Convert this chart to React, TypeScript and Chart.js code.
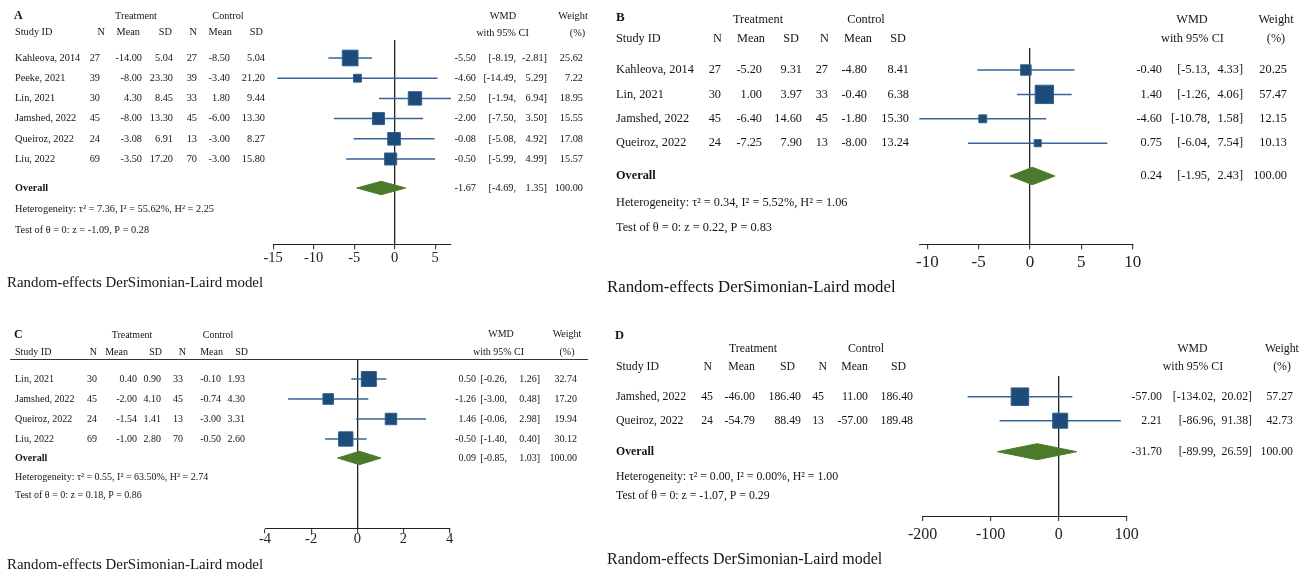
import React, { useEffect, useRef } from 'react';
import { Chart, registerables } from 'chart.js';

Chart.register(...registerables);

const FONT = '"Liberation Serif", "Times New Roman", serif';

// ---------------- Panel A ----------------
const A_STUDIES = ['Kahleova, 2014', 'Peeke, 2021', 'Lin, 2021', 'Jamshed, 2022', 'Queiroz, 2022', 'Liu, 2022'];
const A_T_N = [27, 39, 30, 45, 24, 69];
const A_T_MEAN = [-14.0, -8.0, 4.3, -8.0, -3.08, -3.5];
const A_T_SD = [5.04, 23.3, 8.45, 13.3, 6.91, 17.2];
const A_C_N = [27, 39, 33, 45, 13, 70];
const A_C_MEAN = [-8.5, -3.4, 1.8, -6.0, -3.0, -3.0];
const A_C_SD = [5.04, 21.2, 9.44, 13.3, 8.27, 15.8];
const A_WMD = [-5.5, -4.6, 2.5, -2.0, -0.08, -0.5];
const A_LO = [-8.19, -14.49, -1.94, -7.5, -5.08, -5.99];
const A_HI = [-2.81, 5.29, 6.94, 3.5, 4.92, 4.99];
const A_WEIGHT = [25.62, 7.22, 18.95, 15.55, 17.08, 15.57];
const A_OVERALL = [-1.67, -4.69, 1.35, 100.0];
const A_TICKS = [-15, -10, -5, 0, 5];
const A_HET = 'Heterogeneity: τ² = 7.36, I² = 55.62%, H² = 2.25';
const A_TEST = 'Test of θ = 0: z = -1.09, P = 0.28';

// ---------------- Panel B ----------------
const B_STUDIES = ['Kahleova, 2014', 'Lin, 2021', 'Jamshed, 2022', 'Queiroz, 2022'];
const B_T_N = [27, 30, 45, 24];
const B_T_MEAN = [-5.2, 1.0, -6.4, -7.25];
const B_T_SD = [9.31, 3.97, 14.6, 7.9];
const B_C_N = [27, 33, 45, 13];
const B_C_MEAN = [-4.8, -0.4, -1.8, -8.0];
const B_C_SD = [8.41, 6.38, 15.3, 13.24];
const B_WMD = [-0.4, 1.4, -4.6, 0.75];
const B_LO = [-5.13, -1.26, -10.78, -6.04];
const B_HI = [4.33, 4.06, 1.58, 7.54];
const B_WEIGHT = [20.25, 57.47, 12.15, 10.13];
const B_OVERALL = [0.24, -1.95, 2.43, 100.0];
const B_TICKS = [-10, -5, 0, 5, 10];
const B_HET = 'Heterogeneity: τ² = 0.34, I² = 5.52%, H² = 1.06';
const B_TEST = 'Test of θ = 0: z = 0.22, P = 0.83';

// ---------------- Panel C ----------------
const C_STUDIES = ['Lin, 2021', 'Jamshed, 2022', 'Queiroz, 2022', 'Liu, 2022'];
const C_T_N = [30, 45, 24, 69];
const C_T_MEAN = [0.4, -2.0, -1.54, -1.0];
const C_T_SD = [0.9, 4.1, 1.41, 2.8];
const C_C_N = [33, 45, 13, 70];
const C_C_MEAN = [-0.1, -0.74, -3.0, -0.5];
const C_C_SD = [1.93, 4.3, 3.31, 2.6];
const C_WMD = [0.5, -1.26, 1.46, -0.5];
const C_LO = [-0.26, -3.0, -0.06, -1.4];
const C_HI = [1.26, 0.48, 2.98, 0.4];
const C_WEIGHT = [32.74, 17.2, 19.94, 30.12];
const C_OVERALL = [0.09, -0.85, 1.03, 100.0];
const C_TICKS = [-4, -2, 0, 2, 4];
const C_HET = 'Heterogeneity: τ² = 0.55, I² = 63.50%, H² = 2.74';
const C_TEST = 'Test of θ = 0: z = 0.18, P = 0.86';

// ---------------- Panel D ----------------
const D_STUDIES = ['Jamshed, 2022', 'Queiroz, 2022'];
const D_T_N = [45, 24];
const D_T_MEAN = [-46.0, -54.79];
const D_T_SD = [186.4, 88.49];
const D_C_N = [45, 13];
const D_C_MEAN = [11.0, -57.0];
const D_C_SD = [186.4, 189.48];
const D_WMD = [-57.0, 2.21];
const D_LO = [-134.02, -86.96];
const D_HI = [20.02, 91.38];
const D_WEIGHT = [57.27, 42.73];
const D_OVERALL = [-31.7, -89.99, 26.59, 100.0];
const D_TICKS = [-200, -100, 0, 100];
const D_HET = 'Heterogeneity: τ² = 0.00, I² = 0.00%, H² = 1.00';
const D_TEST = 'Test of θ = 0: z = -1.07, P = 0.29';

const MODEL_TEXT = 'Random-effects DerSimonian-Laird model';

// ---------------- Layout / style ----------------
const COL_SQ = '#1d4b7a';
const COL_SQ_EDGE = '#30608f';
const COL_CI = '#35659a';
const COL_DIA = '#4b7a2b';
const COL_ZERO = '#222222';
const COL_AXIS = '#222222';
const COL_TEXT = '#141414';

const LAYOUT_A = {
  box: { x: 0, y: 0, w: 600, h: 300 },
  font: 10.3, letterFont: 12, modelFont: 14.9, tickFont: 14.5, tickPad: 0,
  letter: [14, 16], groupY: 16, treatX: 136, ctrlX: 228,
  headY: 32, studyX: 15,
  hdrRight: [105, 140, 172, 197, 232, 263],
  colRight: [100, 142, 173, 197, 230, 265],
  row0: 58, rowGap: 20.2, overallY: 188, hetY: 209, testY: 230,
  plotTop: 40, axisY: 244.3, zeroX: 394.7, ppu: 8.1,
  wmdX: 503, cix: 502.5, weightX: 573, pctX: 577.5, hdr1Y: 16, hdr2Y: 33,
  esRight: 476, loRight: 516, hiRight: 547, wRight: 583,
  modelX: 7, modelY: 283, sq: 3.3, dh: 6.7, rule: null as null | number[],
};

const LAYOUT_B = {
  box: { x: 600, y: 0, w: 709, h: 300 },
  font: 12.3, letterFont: 13, modelFont: 16.8, tickFont: 17, tickPad: 3,
  letter: [616, 18], groupY: 20, treatX: 758, ctrlX: 866,
  headY: 39, studyX: 616,
  hdrRight: [722, 765, 799, 829, 872, 906],
  colRight: [721, 762, 802, 828, 867, 909],
  row0: 70, rowGap: 24.4, overallY: 176, hetY: 203, testY: 228,
  plotTop: 48, axisY: 244.3, zeroX: 1030, ppu: 10.27,
  wmdX: 1192, cix: 1192.5, weightX: 1276, pctX: 1276, hdr1Y: 20, hdr2Y: 39,
  esRight: 1162, loRight: 1210, hiRight: 1243, wRight: 1287,
  modelX: 607, modelY: 288, sq: 2.55, dh: 8.7, rule: null as null | number[],
};

const LAYOUT_C = {
  box: { x: 0, y: 300, w: 600, h: 277 },
  font: 10.0, letterFont: 12, modelFont: 14.9, tickFont: 14.5, tickPad: -3,
  letter: [14, 335], groupY: 335, treatX: 132, ctrlX: 218,
  headY: 352, studyX: 15,
  hdrRight: [97, 128, 162, 186, 223, 248],
  colRight: [97, 137, 161, 183, 221, 245],
  row0: 379, rowGap: 20, overallY: 458, hetY: 477, testY: 495,
  plotTop: 359.5, axisY: 528.3, zeroX: 357.3, ppu: 23.07,
  wmdX: 501, cix: 498.5, weightX: 567, pctX: 567, hdr1Y: 334, hdr2Y: 352,
  esRight: 476, loRight: 507, hiRight: 540, wRight: 577,
  modelX: 7, modelY: 565, sq: 2.8, dh: 6.7, rule: [10, 588, 359.5] as null | number[],
};

const LAYOUT_D = {
  box: { x: 600, y: 300, w: 709, h: 277 },
  font: 11.8, letterFont: 12.5, modelFont: 16, tickFont: 16, tickPad: 4,
  letter: [615, 336], groupY: 349, treatX: 753, ctrlX: 866,
  headY: 367, studyX: 616,
  hdrRight: [712, 755, 795, 827, 868, 906],
  colRight: [713, 755, 801, 824, 868, 913],
  row0: 396.7, rowGap: 24, overallY: 451.7, hetY: 477, testY: 496,
  plotTop: 376, axisY: 516, zeroX: 1058.7, ppu: 0.68,
  wmdX: 1192.5, cix: 1193, weightX: 1282, pctX: 1282, hdr1Y: 349, hdr2Y: 367,
  esRight: 1162, loRight: 1216, hiRight: 1252, wRight: 1293,
  modelX: 607, modelY: 560, sq: 2.45, dh: 8, rule: null as null | number[],
};

type Layout = typeof LAYOUT_A;

interface PanelDef {
  letter: string;
  studies: string[];
  tN: number[]; tMean: number[]; tSD: number[];
  cN: number[]; cMean: number[]; cSD: number[];
  wmd: number[]; lo: number[]; hi: number[]; weight: number[];
  overall: number[]; ticks: number[]; het: string; test: string;
  L: Layout;
}

const PANELS: PanelDef[] = [
  { letter: 'A', studies: A_STUDIES, tN: A_T_N, tMean: A_T_MEAN, tSD: A_T_SD, cN: A_C_N, cMean: A_C_MEAN, cSD: A_C_SD,
    wmd: A_WMD, lo: A_LO, hi: A_HI, weight: A_WEIGHT, overall: A_OVERALL, ticks: A_TICKS, het: A_HET, test: A_TEST, L: LAYOUT_A },
  { letter: 'B', studies: B_STUDIES, tN: B_T_N, tMean: B_T_MEAN, tSD: B_T_SD, cN: B_C_N, cMean: B_C_MEAN, cSD: B_C_SD,
    wmd: B_WMD, lo: B_LO, hi: B_HI, weight: B_WEIGHT, overall: B_OVERALL, ticks: B_TICKS, het: B_HET, test: B_TEST, L: LAYOUT_B },
  { letter: 'C', studies: C_STUDIES, tN: C_T_N, tMean: C_T_MEAN, tSD: C_T_SD, cN: C_C_N, cMean: C_C_MEAN, cSD: C_C_SD,
    wmd: C_WMD, lo: C_LO, hi: C_HI, weight: C_WEIGHT, overall: C_OVERALL, ticks: C_TICKS, het: C_HET, test: C_TEST, L: LAYOUT_C },
  { letter: 'D', studies: D_STUDIES, tN: D_T_N, tMean: D_T_MEAN, tSD: D_T_SD, cN: D_C_N, cMean: D_C_MEAN, cSD: D_C_SD,
    wmd: D_WMD, lo: D_LO, hi: D_HI, weight: D_WEIGHT, overall: D_OVERALL, ticks: D_TICKS, het: D_HET, test: D_TEST, L: LAYOUT_D },
];

const XH = 40;

function ForestPanel({ p }: { p: PanelDef }) {
  const ref = useRef<HTMLCanvasElement>(null);

  useEffect(() => {
    const L = p.L;
    const canvas = ref.current;
    if (!canvas) return;
    const axisMin = Math.min(p.ticks[0], ...p.lo);
    const axisMax = Math.max(p.ticks[p.ticks.length - 1], ...p.hi);
    const yOf = (px: number) => (px - L.row0) / L.rowGap;
    const yMin = yOf(L.plotTop);
    const yMax = yOf(L.axisY);
    const yOv = yOf(L.overallY);
    const dhU = L.dh / L.rowGap;

    const ciData: { x: number; y: number }[] = [];
    p.wmd.forEach((_, i) => {
      ciData.push({ x: p.lo[i], y: i }, { x: p.hi[i], y: i }, { x: NaN, y: NaN });
    });
    const sqData = p.wmd.map((v, i) => ({ x: v, y: i }));
    const [oEs, oLo, oHi] = p.overall;
    const diaData = [
      { x: oLo, y: yOv }, { x: oEs, y: yOv - dhU }, { x: oHi, y: yOv }, { x: oEs, y: yOv + dhU }, { x: oLo, y: yOv },
    ];

    const leftPx = L.zeroX + axisMin * L.ppu - L.box.x;
    const rightPx = L.zeroX + axisMax * L.ppu - L.box.x;

    const textPlugin = {
      id: 'forestText' + p.letter,
      afterDraw(chart: any) {
        const ctx: CanvasRenderingContext2D = chart.ctx;
        const ys = chart.scales.y;
        const rowY = (i: number) => ys.getPixelForValue(i) + L.box.y;
        ctx.save();
        ctx.translate(-L.box.x, -L.box.y);
        ctx.fillStyle = COL_TEXT;
        ctx.textBaseline = 'middle';
        const fnt = (size: number, bold = false) => `${bold ? 'bold ' : ''}${size}px ${FONT}`;
        const t = (s: string, x: number, y: number, align: CanvasTextAlign = 'left', font = fnt(L.font)) => {
          ctx.font = font;
          ctx.textAlign = align;
          ctx.fillText(s, x, y);
        };
        // panel letter
        t(p.letter, L.letter[0], L.letter[1], 'left', fnt(L.letterFont, true));
        // group headers
        t('Treatment', L.treatX, L.groupY, 'center');
        t('Control', L.ctrlX, L.groupY, 'center');
        // column headers
        t('Study ID', L.studyX, L.headY);
        const hdrs = ['N', 'Mean', 'SD', 'N', 'Mean', 'SD'];
        hdrs.forEach((h, k) => t(h, L.hdrRight[k], L.headY, 'right'));
        t('WMD', L.wmdX, L.hdr1Y, 'center');
        t('with 95% CI', L.cix, L.hdr2Y, 'center');
        t('Weight', L.weightX, L.hdr1Y, 'center');
        t('(%)', L.pctX, L.hdr2Y, 'center');
        if (L.rule) {
          ctx.strokeStyle = '#333';
          ctx.lineWidth = 1;
          ctx.beginPath();
          ctx.moveTo(L.rule[0], L.rule[2]);
          ctx.lineTo(L.rule[1], L.rule[2]);
          ctx.stroke();
        }
        // study rows
        p.studies.forEach((s, i) => {
          const y = rowY(i);
          t(s, L.studyX, y);
          const vals = [
            String(p.tN[i]), p.tMean[i].toFixed(2), p.tSD[i].toFixed(2),
            String(p.cN[i]), p.cMean[i].toFixed(2), p.cSD[i].toFixed(2),
          ];
          vals.forEach((v, k) => t(v, L.colRight[k], y, 'right'));
          t(p.wmd[i].toFixed(2), L.esRight, y, 'right');
          t('[' + p.lo[i].toFixed(2) + ',', L.loRight, y, 'right');
          t(p.hi[i].toFixed(2) + ']', L.hiRight, y, 'right');
          t(p.weight[i].toFixed(2), L.wRight, y, 'right');
        });
        // overall row
        const oy = rowY(yOv);
        t('Overall', L.studyX, oy, 'left', fnt(L.font, true));
        t(p.overall[0].toFixed(2), L.esRight, oy, 'right');
        t('[' + p.overall[1].toFixed(2) + ',', L.loRight, oy, 'right');
        t(p.overall[2].toFixed(2) + ']', L.hiRight, oy, 'right');
        t(p.overall[3].toFixed(2), L.wRight, oy, 'right');
        // heterogeneity and test
        t(p.het, L.studyX, L.hetY);
        t(p.test, L.studyX, L.testY);
        // model footnote
        t(MODEL_TEXT, L.modelX, L.modelY, 'left', fnt(L.modelFont));
        ctx.restore();
      },
    };

    const chart = new Chart(canvas, {
      type: 'scatter',
      data: {
        datasets: [
          {
            label: 'Studies',
            data: sqData,
            pointStyle: 'rect',
            pointRadius: (c: any) => (L.sq * Math.sqrt(p.weight[c.dataIndex]) - 1) / Math.SQRT2,
            backgroundColor: COL_SQ,
            borderColor: COL_SQ_EDGE,
            borderWidth: 1,
            showLine: false,
            clip: false,
            order: 0,
          } as any,
          {
            label: 'Overall',
            data: diaData,
            showLine: true,
            fill: 'shape',
            backgroundColor: COL_DIA,
            borderColor: COL_DIA,
            borderWidth: 1,
            pointRadius: 0,
            tension: 0,
            clip: false,
            order: 1,
          } as any,
          {
            label: '95% CI',
            data: ciData,
            showLine: true,
            spanGaps: false,
            borderColor: COL_CI,
            borderWidth: 1.5,
            pointRadius: 0,
            tension: 0,
            clip: false,
            order: 2,
          } as any,
        ],
      },
      options: {
        responsive: false,
        animation: false,
        events: [],
        layout: {
          padding: {
            left: leftPx,
            right: L.box.w - rightPx,
            top: L.plotTop - L.box.y,
            bottom: L.box.y + L.box.h - L.axisY - XH,
          },
        },
        plugins: {
          legend: { display: false },
          tooltip: { enabled: false },
        },
        scales: {
          x: {
            type: 'linear',
            position: 'bottom',
            min: axisMin,
            max: axisMax,
            afterBuildTicks: (s: any) => {
              s.ticks = p.ticks.map((v) => ({ value: v }));
            },
            afterFit: (s: any) => {
              s.height = XH;
            },
            grid: {
              display: true,
              drawOnChartArea: true,
              drawTicks: true,
              color: (c: any) => (c.tick && c.tick.value === 0 ? COL_ZERO : 'rgba(0,0,0,0)'),
              lineWidth: 1.3,
              tickColor: COL_AXIS,
              tickWidth: 1,
              tickLength: 5,
            },
            border: { display: true, color: COL_AXIS, width: 1 },
            ticks: {
              autoSkip: false,
              maxRotation: 0,
              padding: L.tickPad,
              color: COL_AXIS,
              font: { family: FONT, size: L.tickFont },
              callback: (v: any) => String(v),
            },
          },
          y: {
            type: 'linear',
            display: false,
            reverse: true,
            min: yMin,
            max: yMax,
          },
        },
      } as any,
      plugins: [textPlugin],
    });
    return () => chart.destroy();
  }, [p]);

  return (
    <canvas
      ref={ref}
      width={p.L.box.w}
      height={p.L.box.h}
      style={{ position: 'absolute', left: p.L.box.x, top: p.L.box.y, width: p.L.box.w, height: p.L.box.h }}
    />
  );
}

export default function App() {
  return (
    <div style={{ position: 'absolute', left: 0, top: 0, width: 1309, height: 577, background: '#ffffff', overflow: 'hidden' }}>
      {PANELS.map((p) => (
        <ForestPanel key={p.letter} p={p} />
      ))}
    </div>
  );
}
